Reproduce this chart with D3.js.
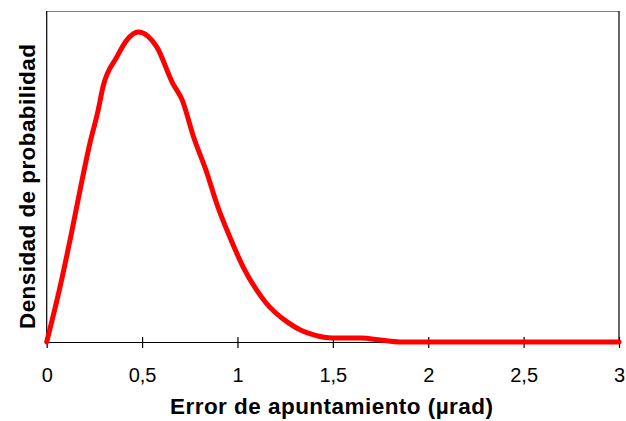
<!DOCTYPE html>
<html><head><meta charset="utf-8">
<script src="https://cdn.jsdelivr.net/npm/d3@7"></script>
<style>body{margin:0;background:#fff}svg{display:block}</style>
</head><body>
<script>
const errorX = [0,0.07,0.13,0.175,0.227,0.27,0.295,0.367,0.42,0.48,0.53,0.577,0.66,0.71,0.77,0.84,0.89,0.96,1.03,1.10,1.15,1.26,1.33,1.4,1.5,1.65,1.75,1.85,2.0,2.5,3.0];
const density = [0,0.233,0.461,0.643,0.842,0.981,1.079,1.205,1.277,1.311,1.294,1.248,1.095,1.024,0.867,0.715,0.588,0.444,0.317,0.220,0.165,0.085,0.051,0.030,0.017,0.017,0.008,0,0,0,0];
const xTicks = [0,0.5,1,1.5,2,2.5,3];
const xTickLabels = ["0","0,5","1","1,5","2","2,5","3"];

const W=626,H=421, m={l:46.7,r:7,t:11,b:79};
const font="'Liberation Sans',Arial,sans-serif";
const svg=d3.select("body").append("svg").attr("width",W).attr("height",H);
const x=d3.scaleLinear().domain([0,3]).range([m.l,W-m.r]);
const y=d3.scaleLinear().domain([0,1.4]).range([H-m.b,m.t]);

// frame
svg.append("line").attr("x1",m.l).attr("x2",W-m.r).attr("y1",m.t+0.5).attr("y2",m.t+0.5).attr("stroke","#808080").attr("stroke-width",1.2);
svg.append("line").attr("x1",W-m.r).attr("x2",W-m.r).attr("y1",m.t).attr("y2",H-m.b).attr("stroke","#000").attr("stroke-width",1.2);
svg.append("line").attr("x1",m.l).attr("x2",m.l).attr("y1",m.t).attr("y2",H-m.b).attr("stroke","#000").attr("stroke-width",1.2);

const ax=svg.append("g").attr("transform",`translate(0,${H-m.b})`)
  .call(d3.axisBottom(x).tickValues(xTicks).tickFormat((d,i)=>xTickLabels[i]).tickSizeInner(6).tickSizeOuter(0));
ax.select(".domain").attr("stroke","#000").attr("stroke-width",1.2);
ax.selectAll(".tick line").attr("y1",-5).attr("y2",6).attr("stroke","#000").attr("stroke-width",1.2);
ax.selectAll("text").attr("y",40).attr("dy",0).attr("font-family",font).attr("font-size",20).attr("fill","#000");

const line=d3.line().x((d,i)=>x(errorX[i])).y(d=>y(d)).curve(d3.curveMonotoneX);
svg.append("path").datum(density).attr("d",line).attr("fill","none").attr("stroke","#ff0000").attr("stroke-width",5).attr("stroke-linejoin","round").attr("stroke-linecap","round");

svg.append("text").attr("x",331.5).attr("y",414).attr("text-anchor","middle")
  .attr("font-family",font).attr("font-weight","bold").attr("font-size",22.5)
  .attr("textLength",323).attr("lengthAdjust","spacing")
  .text("Error de apuntamiento (µrad)");
svg.append("text").attr("transform","translate(35,186.5) rotate(-90)").attr("text-anchor","middle")
  .attr("font-family",font).attr("font-weight","bold").attr("font-size",22.5)
  .attr("textLength",285).attr("lengthAdjust","spacing")
  .text("Densidad de probabilidad");
</script>
</body></html>
